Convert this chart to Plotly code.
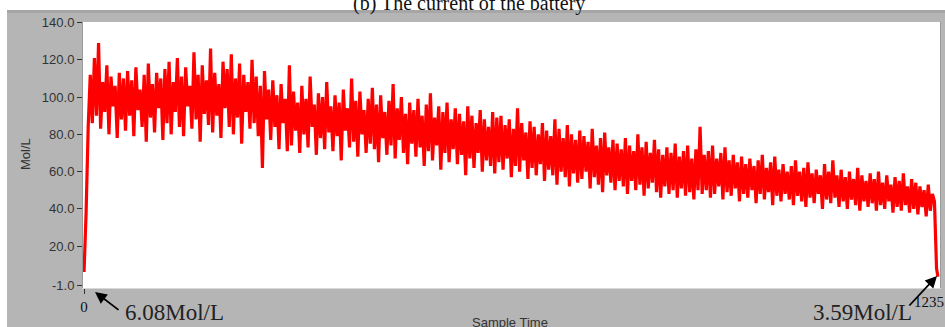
import plotly.graph_objects as go

# Battery current log: one reading every 3 samples, last sample is 1235
sample_time = list(range(0, 1234, 3)) + [1235]
current = [
    6.08, 38, 84, 112, 86, 121, 90, 129, 83, 108, 92, 117, 80, 111, 95, 106, 78, 113, 88, 110,
    82, 114, 90, 109, 79, 116, 93, 104, 84, 112, 76, 118, 89, 107, 81, 113, 94, 110, 77, 115,
    86, 119, 80, 108, 92, 121, 84, 111, 79, 116, 95, 106, 83, 124, 88, 112, 76, 117, 91, 109,
    85, 126, 81, 113, 90, 107, 78, 119, 94, 115, 84, 123, 80, 110, 89, 118, 75, 112, 92, 108,
    83, 120, 86, 111, 79, 106, 62, 114, 88, 104, 77, 109, 84, 101, 72, 107, 86, 99, 71, 117,
    74, 103, 82, 97, 70, 106, 80, 99, 73, 111, 84, 96, 69, 102, 78, 100, 72, 108, 81, 95,
    71, 101, 79, 97, 66, 104, 82, 94, 73, 110, 76, 98, 68, 103, 80, 93, 70, 99, 75, 105,
    72, 96, 65, 101, 78, 92, 69, 98, 74, 107, 67, 94, 77, 100, 70, 91, 64, 97, 75, 93,
    68, 99, 73, 90, 63, 96, 71, 102, 66, 89, 74, 95, 61, 92, 70, 97, 65, 88, 72, 94,
    64, 91, 69, 87, 58, 95, 67, 90, 62, 86, 70, 93, 60, 88, 66, 84, 63, 92, 59, 89,
    65, 90, 61, 85, 67, 88, 57, 83, 63, 94, 60, 86, 66, 81, 56, 87, 62, 84, 58, 80,
    64, 86, 55, 82, 61, 79, 58, 88, 53, 83, 60, 78, 57, 85, 52, 80, 59, 77, 54, 82,
    56, 79, 60, 76, 51, 83, 57, 74, 53, 78, 49, 81, 58, 73, 54, 77, 50, 75, 55, 72,
    52, 78, 48, 74, 55, 71, 50, 80, 53, 73, 47, 76, 51, 70, 54, 77, 49, 72, 46, 69,
    52, 73, 48, 70, 50, 75, 46, 68, 51, 71, 47, 74, 49, 67, 45, 72, 50, 84, 48, 69,
    50, 71, 46, 74, 48, 67, 52, 70, 45, 73, 49, 66, 47, 69, 51, 65, 44, 68, 48, 64,
    46, 67, 50, 63, 43, 66, 48, 69, 45, 62, 49, 65, 42, 68, 47, 61, 44, 64, 48, 60,
    45, 63, 42, 66, 47, 60, 44, 62, 41, 65, 46, 59, 43, 61, 48, 58, 40, 64, 45, 60,
    43, 66, 46, 58, 41, 61, 44, 57, 40, 60, 45, 56, 42, 62, 39, 58, 44, 55, 41, 59,
    43, 56, 39, 60, 42, 54, 40, 58, 44, 53, 38, 57, 41, 55, 39, 59, 42, 52, 38, 56,
    40, 54, 37, 52, 41, 50, 36, 53, 39, 48, 44, 8,
    3.59,
]
y_ticks = [-1, 20, 40, 60, 80, 100, 120, 140]
y_tick_labels = ["-1.0", "20.0", "40.0", "60.0", "80.0", "100.0", "120.0", "140.0"]
start_label = "6.08Mol/L"
end_label = "3.59Mol/L"

W, H = 945, 327
L, R, T, B = 83, 5, 22, 39
PW, PH = W - L - R, H - T - B


def px(xp):
    return (xp - L) / PW


def py(yp):
    return 1 - (yp - T) / PH


GRAY = "#b5b5b5"
SERIF = "Liberation Serif, Times New Roman, serif"
SANS = "Liberation Sans, Arial, sans-serif"

fig = go.Figure(
    go.Scatter(
        x=sample_time,
        y=current,
        mode="lines",
        line=dict(color="#ff0000", width=3.2, simplify=False),
        hoverinfo="skip",
    )
)

shapes = [
    # white margin above and left of the grey panel
    dict(type="rect", xref="paper", yref="paper", x0=px(0), x1=px(W), y0=py(10), y1=py(-5),
         fillcolor="white", line_width=0, layer="below"),
    dict(type="rect", xref="paper", yref="paper", x0=px(-5), x1=px(7), y0=py(H + 5), y1=py(10),
         fillcolor="white", line_width=0, layer="below"),
    # darker rim along the top of the panel
    dict(type="rect", xref="paper", yref="paper", x0=px(7), x1=px(W), y0=py(13), y1=py(10),
         fillcolor="#a6a6a6", line_width=0, layer="below"),
]

annotations = [
    dict(text="(b) The current of the battery", xref="paper", yref="paper",
         x=px(469), y=py(3), xanchor="center", yanchor="middle", showarrow=False,
         font=dict(family=SERIF, size=20, color="#111")),
    dict(text="Mol/L", xref="paper", yref="paper", x=px(25), y=py(154),
         xanchor="center", yanchor="middle", textangle=-90, showarrow=False,
         font=dict(family=SANS, size=13, color="#333")),
    dict(text="Sample Time", xref="paper", yref="paper", x=px(510), y=py(322),
         xanchor="center", yanchor="middle", showarrow=False,
         font=dict(family=SANS, size=13, color="#333")),
    dict(text="1235", xref="paper", yref="paper", x=px(912), y=py(302),
         xanchor="left", yanchor="middle", showarrow=False,
         font=dict(family=SERIF, size=15, color="#111")),
    dict(text=start_label, xref="paper", yref="paper", x=px(174), y=py(312),
         xanchor="center", yanchor="middle", showarrow=False,
         font=dict(family=SERIF, size=23, color="#222")),
    dict(text=end_label, xref="paper", yref="paper", x=px(862), y=py(312),
         xanchor="center", yanchor="middle", showarrow=False,
         font=dict(family=SERIF, size=23, color="#222")),
    # arrows pointing at the first and last readings
    dict(text="", xref="paper", yref="paper", x=px(95), y=py(292), ax=25, ay=19,
         showarrow=True, arrowhead=2, arrowsize=1.3, arrowwidth=1.8, arrowcolor="black"),
    dict(text="", xref="paper", yref="paper", x=px(937), y=py(276), ax=-29, ay=31,
         showarrow=True, arrowhead=2, arrowsize=1.3, arrowwidth=1.8, arrowcolor="black"),
]

fig.update_layout(
    width=W,
    height=H,
    margin=dict(l=L, r=R, t=T, b=B, pad=0),
    paper_bgcolor=GRAY,
    plot_bgcolor="white",
    showlegend=False,
    shapes=shapes,
    annotations=annotations,
    xaxis=dict(
        range=[-1.5, 1238],
        tickvals=[0],
        ticktext=["0"],
        ticks="outside",
        ticklen=5,
        tickcolor="#333",
        tickfont=dict(family=SERIF, size=15, color="#111"),
        showgrid=False,
        zeroline=False,
        showline=True,
        linecolor="#d8d8d8",
        linewidth=1,
    ),
    yaxis=dict(
        range=[-2.5, 140.3],
        tickvals=y_ticks,
        ticktext=y_tick_labels,
        ticks="outside",
        ticklen=5,
        tickcolor="#333",
        tickfont=dict(family=SANS, size=13, color="#333"),
        showgrid=False,
        zeroline=False,
        showline=True,
        mirror=True,
        linecolor="#9a9a9a",
        linewidth=1,
    ),
)

fig.write_html("out.html")
